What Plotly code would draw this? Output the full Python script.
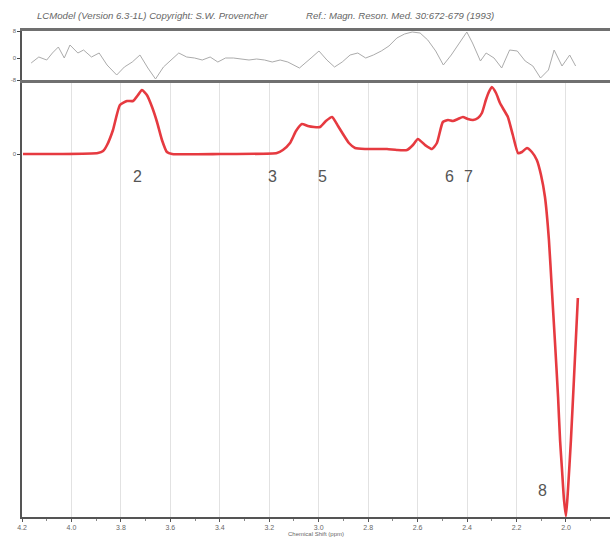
import plotly.graph_objects as go

# ---------------- data ----------------
fit_ppm = [4.196, 4.046, 3.893, 3.872, 3.856, 3.832, 3.804, 3.775, 3.751, 3.731, 3.715, 3.695,
           3.674, 3.654, 3.634, 3.614, 3.593, 3.399, 3.169, 3.145, 3.116, 3.092, 3.068, 3.044,
           3.019, 2.995, 2.971, 2.946, 2.922, 2.902, 2.878, 2.853, 2.813, 2.773, 2.724, 2.684,
           2.643, 2.619, 2.599, 2.570, 2.542, 2.522, 2.498, 2.477, 2.457, 2.437, 2.417, 2.397,
           2.376, 2.356, 2.340, 2.324, 2.312, 2.300, 2.283, 2.267, 2.251, 2.235, 2.215, 2.194,
           2.178, 2.158, 2.138, 2.118, 2.101, 2.085, 2.069, 2.057, 2.045, 2.032, 2.024, 2.016,
           2.008, 2.000, 1.992, 1.980, 1.968, 1.952]
fit_val = [0, 0, 1, 3, 9, 24, 49, 53, 53, 59, 64, 59,
           47, 32, 14, 2, 0, 0, 1, 4, 11, 23, 30, 28,
           27, 27, 33, 37, 28, 20, 11, 6, 5, 5, 5, 4,
           4, 9, 15, 9, 5, 11, 32, 34, 33, 35, 37, 35,
           34, 36, 41, 54, 62, 67, 61, 51, 44, 37, 19, 1,
           2, 6, 2, -6, -21, -43, -86, -136, -186, -243, -286, -316,
           -346, -362, -336, -286, -226, -144]

res_ppm = [4.163, 4.132, 4.100, 4.077, 4.053, 4.029, 4.006, 3.974, 3.951, 3.919, 3.888, 3.856,
           3.817, 3.786, 3.754, 3.723, 3.691, 3.660, 3.628, 3.597, 3.566, 3.534, 3.502, 3.471,
           3.439, 3.408, 3.377, 3.345, 3.314, 3.282, 3.251, 3.219, 3.188, 3.156, 3.125, 3.078,
           3.031, 2.999, 2.967, 2.936, 2.905, 2.873, 2.842, 2.810, 2.779, 2.747, 2.716, 2.684,
           2.653, 2.622, 2.590, 2.559, 2.527, 2.496, 2.464, 2.433, 2.401, 2.378, 2.346, 2.323,
           2.291, 2.260, 2.228, 2.197, 2.165, 2.134, 2.103, 2.071, 2.048, 2.016, 1.985, 1.961]
res_val = [-5, 1, -2, 5, 11, -0, 13, 5, 8, 1, 5, -7,
           -17, -9, -4, 3, -10, -21, -9, -2, 5, 1, -0, -2,
           1, -4, -0, -0, -1, -2, -1, -2, -4, -2, -4, -10,
           -0, 7, -2, -9, -4, 3, 5, -0, 3, 7, 12, 20,
           24, 26, 25, 18, 7, -7, 3, 15, 26, 15, -3, 5,
           0, -10, 8, 7, -3, -8, -20, -12, 8, -8, 3, -8]

tick_vals = [4.2, 4.0, 3.8, 3.6, 3.4, 3.2, 3.0, 2.8, 2.6, 2.4, 2.2, 2.0]
tick_text = ["4.2", "4.0", "3.8", "3.6", "3.4", "3.2", "3.0", "2.8", "2.6", "2.4", "2.2", "2.0"]

peak_labels = ["2", "3", "5", "6", "7", "8"]
peak_ppm = [3.733, 3.188, 2.986, 2.473, 2.393, 2.093]
peak_val = [-22, -22, -22, -22, -22, -336]

# ---------------- figure ----------------
fig = go.Figure()

fig.add_trace(go.Scatter(x=res_ppm, y=res_val, mode="lines",
                         line=dict(color="#ababab", width=1),
                         xaxis="x2", yaxis="y2", showlegend=False, hoverinfo="skip"))

fig.add_trace(go.Scatter(x=fit_ppm, y=fit_val, mode="lines",
                         line=dict(color="#e63a40", width=2.6, shape="spline", smoothing=0.5),
                         xaxis="x", yaxis="y", showlegend=False, hoverinfo="skip"))

for t, px, pv in zip(peak_labels, peak_ppm, peak_val):
    fig.add_annotation(x=px, y=pv, xref="x", yref="y", text=t, showarrow=False,
                       font=dict(family="Liberation Sans, Arial", size=16, color="#555555"))

split = 437 / 486
xr = [4.2, 1.822]

fig.update_layout(
    width=610, height=545,
    margin=dict(l=22, r=0, t=31, b=28),
    paper_bgcolor="white", plot_bgcolor="white",
    font=dict(family="Liberation Sans, Arial", color="#555555"),
    xaxis=dict(range=xr, domain=[0, 1], anchor="y",
               tickvals=tick_vals, ticktext=tick_text,
               tickfont=dict(size=7, color="#666666"),
               showline=True, linecolor="#555555", linewidth=1.5,
               ticks="outside", ticklen=3, tickcolor="#555555",
               minor=dict(ticks="outside", ticklen=2, tickcolor="#888888", dtick=0.1),
               showgrid=True, gridcolor="#e2e2e2", gridwidth=1,
               zeroline=False,
               title=dict(text="Chemical Shift (ppm)", font=dict(size=6, color="#666666"),
                          standoff=2)),
    yaxis=dict(range=[-363, 74], domain=[0, split], anchor="x",
               tickvals=[0], ticktext=["0"], tickfont=dict(size=6, color="#666666"),
               showline=True, linecolor="#555555", linewidth=1.5,
               ticks="outside", ticklen=3, showgrid=False, zeroline=False),
    xaxis2=dict(range=xr, domain=[0, 1], anchor="y2",
                showticklabels=False, showline=True, mirror=True,
                linecolor="#707070", linewidth=2.5, ticks="", showgrid=False,
                zeroline=False),
    yaxis2=dict(range=[-22, 27], domain=[split, 1], anchor="x2",
                tickvals=[-22, 0, 27], ticktext=["-8", "0", "8"],
                tickfont=dict(size=6, color="#666666"),
                showline=True, linecolor="#555555", linewidth=1.5,
                ticks="outside", ticklen=3, showgrid=False, zeroline=False),
)

fig.add_annotation(xref="paper", yref="paper", x=0.022, y=1.031, xanchor="left", yanchor="middle",
                   text="<i>LCModel (Version 6.3-1L) Copyright: S.W. Provencher</i>",
                   showarrow=False, font=dict(size=9.6, color="#666666"))
fig.add_annotation(xref="paper", yref="paper", x=0.48, y=1.031, xanchor="left", yanchor="middle",
                   text="<i>Ref.: Magn. Reson. Med. 30:672-679 (1993)</i>",
                   showarrow=False, font=dict(size=9.6, color="#666666"))

fig.write_html("out.html")
